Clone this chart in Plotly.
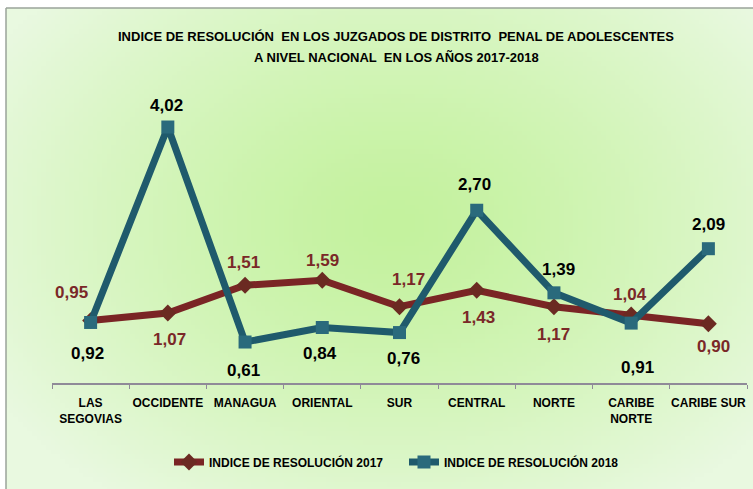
import base64, struct, zlib
import numpy as np
import plotly.graph_objects as go

# ---------------- data ----------------
categories = ["LAS<br>SEGOVIAS", "OCCIDENTE", "MANAGUA", "ORIENTAL", "SUR",
              "CENTRAL", "NORTE", "CARIBE<br>NORTE", "CARIBE SUR"]
values_2017 = [0.95, 1.07, 1.51, 1.59, 1.17, 1.43, 1.17, 1.04, 0.90]
values_2018 = [0.92, 4.02, 0.61, 0.84, 0.76, 2.70, 1.39, 0.91, 2.09]
series_names = ["INDICE DE RESOLUCIÓN 2017", "INDICE DE RESOLUCIÓN 2018"]
title_lines = ["INDICE DE RESOLUCIÓN  EN LOS JUZGADOS DE DISTRITO  PENAL DE ADOLESCENTES",
               "A NIVEL NACIONAL  EN LOS AÑOS 2017-2018"]

# label offsets (style only, pixels)
shift_2017 = [(-19, 28), (2, -26), (-2, 23), (0, 20), (9, 27), (2, -27), (0, -28), (-1, 20), (5, -23)]
shift_2018 = [(-3, -31), (-1, 22), (-2, -28), (-2, -26), (4, -26), (-2, 26), (5, 23), (6, -44), (0, 24)]

W, H = 753, 489
C17, C18 = "#7a2525", "#1f5a6c"


def fmt(v):
    return f"{v:.2f}".replace(".", ",")


# ---------------- background gradient (PNG) ----------------
def gradient_png(w=160, h=104):
    ys, xs = np.mgrid[0:h, 0:w]
    xs = xs / (w - 1)
    ys = ys / (h - 1)
    dx = (xs - 0.52) / 0.62
    dy = (ys - 0.45) / 0.70
    t = np.clip(np.sqrt(dx ** 2 + dy ** 2), 0, 1) ** 1.3
    c0 = np.array([196, 242, 158], float)
    c1 = np.array([233, 249, 224], float)
    img = c0[None, None, :] * (1 - t[..., None]) + c1[None, None, :] * t[..., None]
    img = img.astype(np.uint8)
    raw = b"".join(b"\x00" + img[r].tobytes() for r in range(h))

    def chunk(tag, data):
        c = struct.pack(">I", len(data)) + tag + data
        return c + struct.pack(">I", zlib.crc32(tag + data) & 0xffffffff)

    png = b"\x89PNG\r\n\x1a\n" + chunk(b"IHDR", struct.pack(">IIBBBBB", w, h, 8, 2, 0, 0, 0)) \
        + chunk(b"IDAT", zlib.compress(raw, 9)) + chunk(b"IEND", b"")
    return "data:image/png;base64," + base64.b64encode(png).decode()


fig = go.Figure()
fig.add_trace(go.Scatter(
    x=categories, y=values_2017, name="<b>" + series_names[0] + "</b>", mode="lines+markers",
    line=dict(color=C17, width=7),
    marker=dict(symbol="diamond", size=13, color="#6b2a22"),
))
fig.add_trace(go.Scatter(
    x=categories, y=values_2018, name="<b>" + series_names[1] + "</b>", mode="lines+markers",
    line=dict(color=C18, width=7),
    marker=dict(symbol="square", size=13, color="#2a6a7c"),
))

annotations = []
for cat, v, (xs, ys) in zip(categories, values_2017, shift_2017):
    annotations.append(dict(x=cat, y=v, xref="x", yref="y", text="<b>" + fmt(v) + "</b>",
                            showarrow=False, xshift=xs, yshift=ys,
                            font=dict(family="Liberation Sans, Arial", size=17, color="#7a2828")))
for cat, v, (xs, ys) in zip(categories, values_2018, shift_2018):
    annotations.append(dict(x=cat, y=v, xref="x", yref="y", text="<b>" + fmt(v) + "</b>",
                            showarrow=False, xshift=xs, yshift=ys,
                            font=dict(family="Liberation Sans, Arial", size=17, color="#000000")))
for i, line in enumerate(title_lines):
    annotations.append(dict(x=396 / W, y=1 - (37 + 20 * i) / H, xref="paper", yref="paper",
                            text="<b>" + line + "</b>", showarrow=False,
                            xanchor="center", yanchor="middle",
                            font=dict(family="Liberation Sans, Arial", size=13, color="#000000")))

fig.update_layout(
    width=W, height=H,
    margin=dict(l=0, r=0, t=0, b=0, autoexpand=False),
    paper_bgcolor="white", plot_bgcolor="rgba(0,0,0,0)",
    font=dict(family="Liberation Sans, Arial", color="#000000"),
    annotations=annotations,
    images=[dict(source=gradient_png(), xref="paper", yref="paper",
                 x=6 / W, y=1 - 8 / H, sizex=(W - 6) / W, sizey=(H - 8) / H,
                 sizing="stretch", layer="below", xanchor="left", yanchor="top")],
    shapes=[
        dict(type="line", xref="paper", yref="paper", x0=6 / W, x1=1, y0=1 - 8 / H, y1=1 - 8 / H,
             line=dict(color="#9aa39a", width=1.5)),
        dict(type="line", xref="paper", yref="paper", x0=6 / W, x1=6 / W, y0=0, y1=1 - 8 / H,
             line=dict(color="#9aa39a", width=1.5)),
    ],
    xaxis=dict(domain=[52 / W, 747 / W], type="category", range=[-0.5, 8.5],
               showline=True, linecolor="#8f8a98", linewidth=1.5, automargin=False,
               ticks="outside", tickson="boundaries", ticklen=4, tickcolor="#8f8a98",
               ticklabelstandoff=8,
               tickangle=0, showgrid=False, zeroline=False,
               tickfont=dict(family="Liberation Sans, Arial", size=12, color="#000000"),
               tickprefix="<b>", ticksuffix="</b>"),
    yaxis=dict(domain=[1 - 383 / H, 1 - 90 / H], range=[-0.04, 4.607], visible=False,
               showgrid=False, zeroline=False, automargin=False),
    showlegend=True,
    legend=dict(orientation="h", x=404 / W, xanchor="center", y=1 - 462 / H, yanchor="middle",
                bgcolor="rgba(0,0,0,0)", entrywidth=190,
                font=dict(family="Liberation Sans, Arial", size=12, color="#000000")),
)

fig.write_html("out.html", config={"displayModeBar": False},
               post_script="document.body.style.margin='0';")
